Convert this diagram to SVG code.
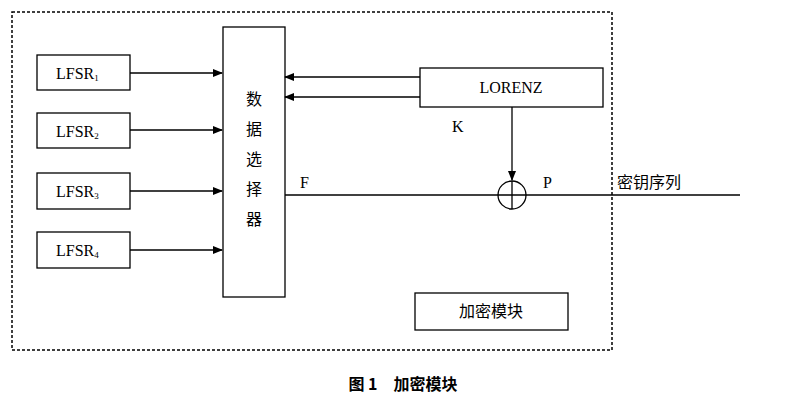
<svg xmlns="http://www.w3.org/2000/svg" width="807" height="407" viewBox="0 0 807 407">
<defs><marker id="a" markerWidth="10" markerHeight="8" refX="9" refY="4" orient="auto" markerUnits="userSpaceOnUse"><path d="M0,0 L10,4 L0,8 Z" fill="#000"/></marker></defs>
<style>.b{fill:#fff;stroke:#000;stroke-width:1.3}.l{stroke:#000;stroke-width:1.3;fill:none}.t{font-family:"Liberation Serif",serif;font-size:16px;fill:#000}.c{font-family:"Noto Sans CJK SC",sans-serif;font-size:16px;fill:#000}</style>
<rect width="807" height="407" fill="#fff"/>
<rect x="12" y="12" width="600" height="338" fill="none" stroke="#000" stroke-width="1.5" stroke-dasharray="3,2"/>
<g id="lfsr1"><rect class="b" x="37" y="55" width="93" height="35"/><text class="t" x="56" y="79">LFSR<tspan font-size="9" dy="2">1</tspan></text></g>
<g id="lfsr2"><rect class="b" x="37" y="113" width="93" height="35"/><text class="t" x="56" y="137">LFSR<tspan font-size="9" dy="2">2</tspan></text></g>
<g id="lfsr3"><rect class="b" x="37" y="173" width="93" height="36"/><text class="t" x="56" y="197">LFSR<tspan font-size="9" dy="2">3</tspan></text></g>
<g id="lfsr4"><rect class="b" x="37" y="232" width="93" height="36"/><text class="t" x="56" y="256">LFSR<tspan font-size="9" dy="2">4</tspan></text></g>
<g id="sel"><rect class="b" x="223" y="27" width="62" height="270"/><text class="c" x="254" y="105" text-anchor="middle">数</text><text class="c" x="254" y="135" text-anchor="middle">据</text><text class="c" x="254" y="165" text-anchor="middle">选</text><text class="c" x="254" y="195" text-anchor="middle">择</text><text class="c" x="254" y="225" text-anchor="middle">器</text></g>
<g id="lorenz"><rect class="b" x="420" y="68" width="183" height="39"/><text class="t" x="511" y="93" text-anchor="middle">LORENZ</text></g>
<g id="xor"><circle class="b" cx="512" cy="195" r="14"/><path class="l" d="M498,195H526M512,181V209"/></g>
<g id="mod"><rect class="b" x="415" y="293" width="153" height="37"/><text class="c" x="491" y="317" text-anchor="middle">加密模块</text></g>
<g id="edges">
<path class="l" marker-end="url(#a)" d="M130,73H222"/>
<path class="l" marker-end="url(#a)" d="M130,130H222"/>
<path class="l" marker-end="url(#a)" d="M130,191H222"/>
<path class="l" marker-end="url(#a)" d="M130,250H222"/>
<path class="l" marker-end="url(#a)" d="M420,77H285"/>
<path class="l" marker-end="url(#a)" d="M420,97H285"/>
<path class="l" marker-end="url(#a)" d="M512,107V180"/>
<path class="l" d="M285,195H498"/>
<path class="l" d="M526,195H740"/>
</g>
<text class="t" x="452" y="132">K</text>
<text class="t" x="300" y="188">F</text>
<text class="t" x="543" y="188">P</text>
<text class="c" x="617" y="188" font-size="18">密钥序列</text>
<text class="c" x="403" y="390" text-anchor="middle" font-weight="bold">图 1　加密模块</text>
</svg>
